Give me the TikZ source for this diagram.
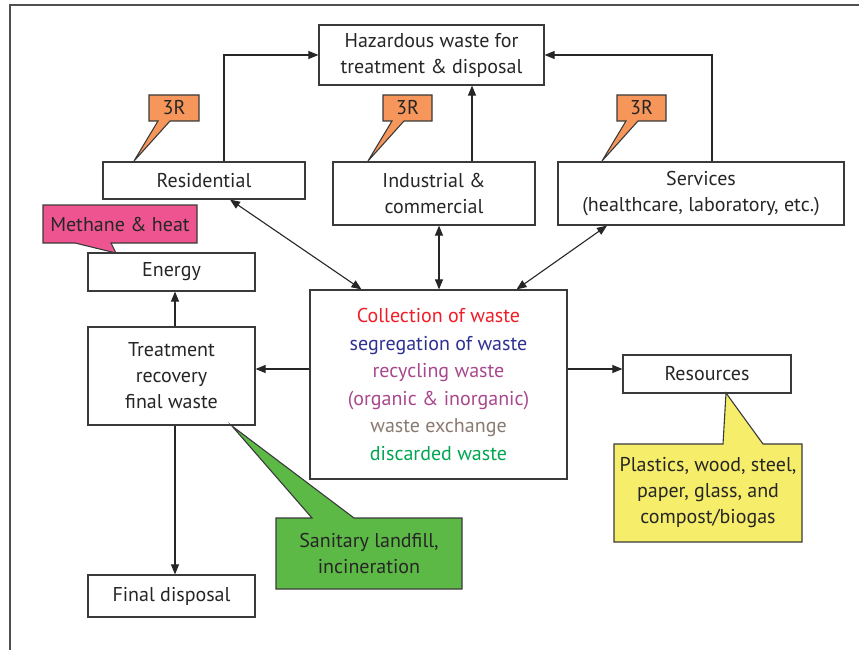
\documentclass[tikz,border=0pt]{standalone}
\usepackage{fontspec}
\setmainfont{PT Sans}
\usetikzlibrary{arrows.meta,calc}

\definecolor{frameGray}{HTML}{505050}
\definecolor{edgeGray}{HTML}{3A3A3A}
\definecolor{orangeFill}{HTML}{F7965A}
\definecolor{pinkFill}{HTML}{EE5590}
\definecolor{greenFill}{HTML}{5DB946}
\definecolor{yellowFill}{HTML}{F6EE6A}
\definecolor{txtRed}{HTML}{F01E28}
\definecolor{txtBlue}{HTML}{2E3192}
\definecolor{txtPurple}{HTML}{A8488E}
\definecolor{txtTaupe}{HTML}{8A7B72}
\definecolor{txtGreen}{HTML}{00A651}

\tikzset{
  box/.style={draw=edgeGray, line width=1.2pt, fill=white, align=center,
    inner sep=0pt, font=\fontsize{20}{26}\selectfont, text=black!85},
  label/.style={align=center, inner sep=0pt, font=\fontsize{20}{26}\selectfont, text=black!85},
  callout/.style={draw=edgeGray, line width=1.1pt, line join=miter},
  arr/.style={line width=1.1pt, draw=black!85, -{Triangle[length=10pt,width=8pt]}},
  darr/.style={line width=1.1pt, draw=black!85, {Triangle[length=10pt,width=8pt]}-{Triangle[length=10pt,width=8pt]}},
}

\begin{document}
\begin{tikzpicture}[x=1pt,y=-1pt]
\useasboundingbox (0,0) rectangle (859,650);

% page frame (top and left edges)
\draw[frameGray, line width=1.6pt] (10,650) -- (10,5) -- (859,5);

% main boxes
\node[box, minimum width=225pt, minimum height=60pt] (haz) at (431.5,55)
  {Hazardous waste for\\treatment \& disposal};
\node[box, minimum width=202pt, minimum height=37pt] (res) at (204,180.5) {Residential};
\node[box, minimum width=202pt, minimum height=63pt] (ind) at (434,193.5)
  {Industrial \&\\commercial};
\node[box, minimum width=286pt, minimum height=63pt] (ser) at (701,193.5)
  {Services\\(healthcare, laboratory, etc.)};
\node[box, minimum width=167pt, minimum height=38pt] (energy) at (171.5,272) {Energy};
\node[box, minimum width=167pt, minimum height=98pt] (treat) at (171.5,376)
  {Treatment\\recovery\\final waste};
\node[box, minimum width=167pt, minimum height=42pt] (final) at (171.5,596) {Final disposal};
\node[box, minimum width=257pt, minimum height=189pt, font=\fontsize{20}{27.6}\selectfont] (cen) at (438.5,384.5)
  {\textcolor{txtRed}{Collection of waste}\\
   \textcolor{txtBlue}{segregation of waste}\\
   \textcolor{txtPurple}{recycling waste}\\
   \textcolor{txtPurple}{(organic \& inorganic)}\\
   \textcolor{txtTaupe}{waste exchange}\\
   \textcolor{txtGreen}{discarded waste}};
\node[box, minimum width=168pt, minimum height=38pt] (resrc) at (707,374) {Resources};

% connectors
\draw[arr] ([xshift=20pt]res.north) |- (haz.west);
\draw[arr] ([xshift=38pt]ind.north) -- ([xshift=38pt]ind.north |- haz.south);
\draw[arr] ([xshift=11pt]ser.north) |- (haz.east);
\draw[darr] ([xshift=26pt]res.south) -- ([xshift=-77pt]cen.north);
\draw[darr] ([xshift=5pt]ind.south) -- ([xshift=5pt]ind.south |- cen.north);
\draw[darr] ([xshift=-94pt]ser.south) -- ([xshift=78pt]cen.north);
\draw[arr] ([yshift=15.5pt]cen.west) -- ([yshift=15.5pt]cen.west -| treat.east);
\draw[arr] ([yshift=15.5pt]cen.east) -- ([yshift=15.5pt]cen.east -| resrc.west);
\draw[arr] ([xshift=3.5pt]treat.north) -- ([xshift=3.5pt]treat.north |- energy.south);
\draw[arr] ([xshift=3.5pt]treat.south) -- ([xshift=3.5pt]treat.south |- final.north);

% 3R callouts
\draw[callout, fill=orangeFill] (149,95) -- (199,95) -- (199,121) -- (170,121)
  -- (134,161) -- (158,121) -- (149,121) -- cycle;
\node[label] (rr1) at (174,108) {3R};
\draw[callout, fill=orangeFill] (383,95) -- (432,95) -- (432,121) -- (404,121)
  -- (368,161) -- (392,121) -- (383,121) -- cycle;
\node[label] (rr2) at (407.5,108) {3R};
\draw[callout, fill=orangeFill] (617,95) -- (666,95) -- (666,121) -- (638,121)
  -- (602,161) -- (626,121) -- (617,121) -- cycle;
\node[label] (rr3) at (641.5,108) {3R};

% methane callout
\draw[callout, fill=pinkFill] (43,205) -- (197,205) -- (197,243) -- (111,243)
  -- (116,253) -- (75,243) -- (43,243) -- cycle;
\node[label] (meth) at (120,224) {Methane \& heat};

% landfill callout
\draw[callout, fill=greenFill] (276,518) -- (312,518) -- (232,426) -- (354,518)
  -- (462,518) -- (462,589) -- (276,589) -- cycle;
\node[label] (land) at (369,553.5) {Sanitary landfill,\\incineration};

% resources callout
\draw[callout, fill=yellowFill] (614,444) -- (723,444) -- (726,393) -- (763,444)
  -- (802,444) -- (802,542) -- (614,542) -- cycle;
\node[label] (mat) at (708,493) {Plastics, wood, steel,\\paper, glass, and\\compost/biogas};
\end{tikzpicture}
\end{document}
